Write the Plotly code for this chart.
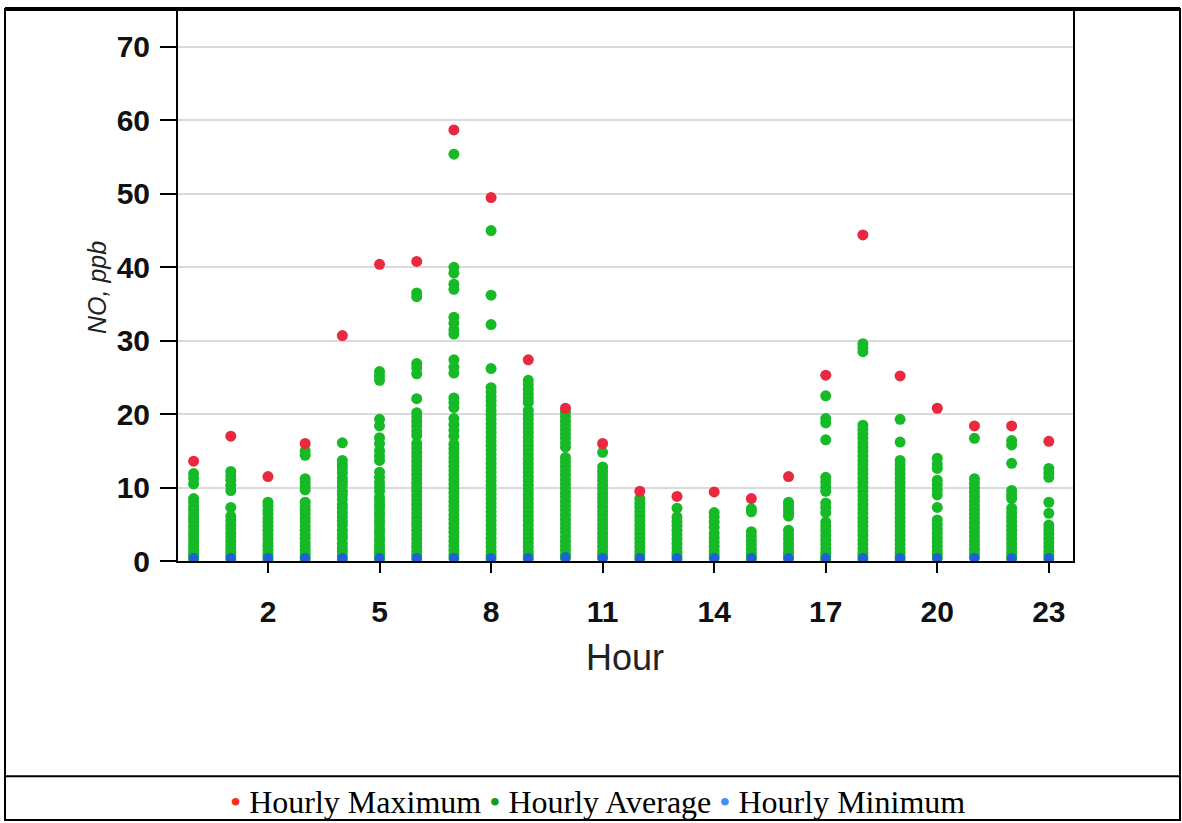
import plotly.graph_objects as go

# Hour of day (0-23)
hours = list(range(24))

# Hourly maximum NO (ppb)
hourly_max = [13.6, 17.0, 11.5, 16.0, 30.7, 40.4, 40.8, 58.7, 49.5, 27.4, 20.8, 16.0,
              9.5, 8.8, 9.4, 8.5, 11.5, 25.3, 44.4, 25.2, 20.8, 18.4, 18.4, 16.3]

# Hourly minimum NO (ppb)
hourly_min = [0.4, 0.4, 0.4, 0.4, 0.4, 0.4, 0.4, 0.4, 0.4, 0.4, 0.5, 0.4,
              0.4, 0.4, 0.4, 0.4, 0.4, 0.4, 0.4, 0.4, 0.4, 0.4, 0.4, 0.4]

# Hourly averages (one value per day) for each hour of the day
avg_00 = [11.9, 11.2, 10.5, 8.5, 8.0, 7.4, 6.9, 6.3, 5.8, 5.3, 4.7, 4.1, 3.6, 3.0, 2.5, 2.0, 1.5, 1.0, 0.6, 0.2]
avg_01 = [12.2, 11.6, 11.0, 10.3, 9.6, 7.3, 6.1, 5.5, 4.9, 4.4, 3.8, 3.3, 2.7, 2.2, 1.7, 1.2, 0.7, 0.3]
avg_02 = [8.0, 7.5, 6.9, 6.4, 5.8, 5.3, 4.8, 4.2, 3.6, 3.0, 2.4, 2.0, 1.5, 1.0, 0.6, 0.2]
avg_03 = [15.0, 14.4, 11.2, 10.7, 10.2, 9.7, 8.0, 7.4, 6.9, 6.4, 5.8, 5.3, 4.7, 4.2, 3.6, 3.1, 2.5, 2.0, 1.5, 1.0, 0.5, 0.1]
avg_04 = [16.1, 13.7, 13.1, 12.6, 12.0, 11.3, 10.8, 10.2, 9.5, 9.0, 8.4, 7.7, 7.2, 6.6, 6.0, 5.4, 4.9, 4.2, 3.6,
          3.1, 2.4, 1.8, 1.3, 0.7, 0.2]
avg_05 = [25.8, 25.2, 24.6, 19.3, 18.4, 16.8, 16.0, 15.0, 14.3, 13.7, 12.1, 11.4, 10.7, 10.1, 9.5, 8.7, 8.2, 7.6,
          7.1, 6.5, 6.0, 5.4, 4.9, 4.3, 3.8, 3.2, 2.7, 2.1, 1.6, 1.1, 0.6, 0.2]
avg_06 = [36.5, 36.0, 26.9, 26.3, 25.5, 22.1, 20.2, 19.6, 19.0, 18.4, 17.7, 17.1, 16.0, 15.4, 14.8, 14.2, 13.6,
          13.0, 12.4, 11.8, 11.2, 10.6, 10.0, 9.5, 8.9, 8.3, 7.7, 7.1, 6.5, 5.9, 5.3, 4.8, 4.2, 3.6, 3.0, 2.4,
          1.9, 1.3, 0.8, 0.3]
avg_07 = [55.4, 40.0, 39.2, 37.7, 37.0, 33.2, 32.4, 31.5, 30.9, 27.4, 26.4, 25.6, 22.2, 21.6, 20.9, 19.4, 18.6,
          17.8, 17.0, 15.9, 15.3, 14.7, 14.1, 13.5, 12.9, 12.3, 11.7, 11.1, 10.5, 9.9, 9.3, 8.7, 8.1, 7.5, 6.9,
          6.3, 5.7, 5.1, 4.5, 3.9, 3.3, 2.7, 2.1, 1.5, 0.9, 0.4]
avg_08 = [45.0, 36.2, 32.2, 26.2, 23.6, 23.0, 22.4, 21.8, 21.2, 20.5, 19.9, 19.3, 18.7, 18.1, 17.5, 16.9, 16.3,
          15.7, 15.1, 14.5, 13.9, 13.3, 12.7, 12.1, 11.5, 10.9, 10.3, 9.7, 9.1, 8.5, 7.9, 7.3, 6.7, 6.1, 5.5,
          4.9, 4.3, 3.7, 3.1, 2.5, 1.9, 1.3, 0.8, 0.3]
avg_09 = [24.6, 24.0, 23.4, 22.8, 22.2, 21.6, 20.5, 19.9, 19.3, 18.7, 18.1, 17.5, 16.9, 16.3, 15.7, 15.1, 14.5,
          13.9, 13.3, 12.7, 12.1, 11.5, 10.9, 10.3, 9.7, 9.1, 8.5, 7.9, 7.3, 6.7, 6.1, 5.5, 4.9, 4.3, 3.7, 3.1,
          2.5, 1.9, 1.3, 0.8, 0.3]
avg_10 = [20.3, 19.7, 19.1, 18.5, 17.9, 17.3, 16.7, 16.1, 15.5, 14.1, 13.5, 12.9, 12.3, 11.7, 11.1, 10.5, 9.9,
          9.3, 8.7, 8.1, 7.5, 6.9, 6.3, 5.7, 5.1, 4.5, 3.9, 3.3, 2.7, 2.1, 1.5, 0.9, 0.4]
avg_11 = [14.8, 12.8, 12.2, 11.6, 11.0, 10.4, 9.8, 9.2, 8.6, 8.0, 7.4, 6.8, 6.2, 5.6, 5.0, 4.4, 3.8, 3.2, 2.6,
          2.0, 1.4, 0.9, 0.4]
avg_12 = [8.5, 7.9, 7.3, 6.7, 6.1, 5.5, 4.9, 4.3, 3.7, 3.1, 2.5, 1.9, 1.3, 0.8, 0.3]
avg_13 = [7.2, 6.0, 5.4, 4.8, 4.2, 3.6, 3.0, 2.4, 1.8, 1.2, 0.7, 0.3]
avg_14 = [6.6, 6.0, 5.3, 4.6, 3.8, 3.2, 2.6, 2.0, 1.4, 0.9, 0.4]
avg_15 = [7.1, 6.7, 4.0, 3.4, 2.8, 2.2, 1.6, 1.1, 0.6, 0.2]
avg_16 = [8.0, 7.5, 7.0, 6.5, 6.1, 4.2, 3.6, 3.0, 2.4, 1.8, 1.2, 0.7, 0.3]
avg_17 = [22.5, 19.4, 18.8, 16.5, 11.4, 10.8, 10.1, 9.5, 7.9, 7.3, 6.6, 5.3, 4.7, 4.1, 3.5, 2.9, 2.3, 1.7, 1.1,
          0.6, 0.2]
avg_18 = [29.6, 29.0, 28.5, 18.5, 17.9, 17.3, 16.7, 16.1, 15.5, 14.9, 14.3, 13.7, 13.1, 12.5, 11.9, 11.3, 10.7,
          10.1, 9.5, 8.9, 8.3, 7.7, 7.1, 6.5, 5.9, 5.3, 4.7, 4.1, 3.5, 2.9, 2.3, 1.7, 1.1, 0.6, 0.2]
avg_19 = [19.3, 16.2, 13.7, 13.1, 12.5, 11.9, 11.3, 10.7, 10.1, 9.5, 8.9, 8.3, 7.7, 7.1, 6.5, 5.9, 5.3, 4.7, 4.1,
          3.5, 2.9, 2.3, 1.7, 1.1, 0.6, 0.2]
avg_20 = [14.0, 13.2, 12.6, 11.0, 10.4, 9.7, 9.0, 7.3, 5.6, 5.0, 4.4, 3.8, 3.2, 2.6, 2.0, 1.4, 0.9, 0.4]
avg_21 = [16.7, 11.2, 10.6, 10.0, 9.4, 8.8, 8.2, 7.6, 7.0, 6.4, 5.8, 5.2, 4.6, 4.0, 3.4, 2.8, 2.2, 1.6, 1.0, 0.5]
avg_22 = [16.4, 15.8, 13.3, 9.6, 9.0, 8.5, 7.2, 6.6, 6.0, 5.4, 4.8, 4.2, 3.6, 3.0, 2.4, 1.8, 1.2, 0.7, 0.3]
avg_23 = [12.6, 12.0, 11.4, 8.0, 6.5, 4.9, 4.3, 3.7, 3.1, 2.5, 1.9, 1.3, 0.8, 0.3]

x_ticks = [2, 5, 8, 11, 14, 17, 20, 23]
y_ticks = [0, 10, 20, 30, 40, 50, 60, 70]

averages = [avg_00, avg_01, avg_02, avg_03, avg_04, avg_05, avg_06, avg_07, avg_08, avg_09, avg_10, avg_11,
            avg_12, avg_13, avg_14, avg_15, avg_16, avg_17, avg_18, avg_19, avg_20, avg_21, avg_22, avg_23]
avg_x, avg_y = [], []
for h, vals in zip(hours, averages):
    avg_x += [h] * len(vals)
    avg_y += vals

RED, GREEN, BLUE = "#e8293f", "#16b926", "#1f5fd8"

W, H = 1182, 823
L, R, T, B = 178, 1073, 9, 561  # plot area in pixels


def fx(px):
    return (px - L) / (R - L)


def fy(py):
    return (B - py) / (B - T)


fig = go.Figure()
fig.add_trace(go.Scatter(x=avg_x, y=avg_y, mode="markers", name="Hourly Average",
                         marker=dict(color=GREEN, size=11, line=dict(width=0))))
fig.add_trace(go.Scatter(x=hours, y=hourly_min, mode="markers", name="Hourly Minimum",
                         marker=dict(color=BLUE, size=10, line=dict(width=0))))
fig.add_trace(go.Scatter(x=hours, y=hourly_max, mode="markers", name="Hourly Maximum",
                         marker=dict(color=RED, size=11, line=dict(width=0))))

tick_font = dict(family="Liberation Sans, Arial, sans-serif", size=30, color="#111111", weight="bold")

fig.update_xaxes(range=[-0.42, 23.65], tickvals=x_ticks, ticks="outside", ticklen=10, tickwidth=1.5,
                 tickcolor="black", tickfont=tick_font, ticklabelstandoff=13,
                 showline=True, linecolor="black", linewidth=2, mirror=True,
                 showgrid=False, zeroline=False)
fig.update_yaxes(range=[0, 74.9], tickvals=y_ticks, ticks="outside", ticklen=16, tickwidth=1.5,
                 tickcolor="black", tickfont=tick_font, ticklabelstandoff=4,
                 showline=True, linecolor="black", linewidth=2, mirror=True,
                 showgrid=True, gridcolor="#dadada", gridwidth=2, zeroline=False)

# outer frame and legend row separator
frame = dict(type="line", xref="paper", yref="paper", line=dict(color="black", width=2))
shapes = [
    dict(frame, x0=fx(5), x1=fx(1180), y0=fy(7), y1=fy(7), line=dict(color="black", width=4)),
    dict(frame, x0=fx(5), x1=fx(1180), y0=fy(821), y1=fy(821)),
    dict(frame, x0=fx(5), x1=fx(5), y0=fy(6), y1=fy(822)),
    dict(frame, x0=fx(1180), x1=fx(1180), y0=fy(6), y1=fy(822)),
    dict(frame, x0=fx(5), x1=fx(1180), y0=fy(777), y1=fy(777)),
]

legend_text = (
    '<span style="color:#ff2a1a">•</span> Hourly Maximum '
    '<span style="color:#129a1e">•</span> Hourly Average '
    '<span style="color:#4a8cf5">•</span> Hourly Minimum'
)

annotations = [
    dict(text="Hour", x=fx(625), y=fy(658), xref="paper", yref="paper", showarrow=False,
         xanchor="center", yanchor="middle",
         font=dict(family="Liberation Sans, Arial, sans-serif", size=36, color="#222222")),
    dict(text="<i>NO, ppb</i>", x=fx(97), y=fy(287), xref="paper", yref="paper", showarrow=False,
         xanchor="center", yanchor="middle", textangle=-90,
         font=dict(family="Liberation Sans, Arial, sans-serif", size=25, color="#222222")),
    dict(text=legend_text, x=fx(597), y=fy(803), xref="paper", yref="paper", showarrow=False,
         xanchor="center", yanchor="middle",
         font=dict(family="Liberation Serif, Times New Roman, serif", size=32, color="black")),
]

fig.update_layout(
    width=W, height=H, autosize=False,
    margin=dict(l=L, r=W - R, t=T, b=H - B, pad=0),
    paper_bgcolor="white", plot_bgcolor="white",
    showlegend=False, shapes=shapes, annotations=annotations,
)

fig.write_html("out.html")
